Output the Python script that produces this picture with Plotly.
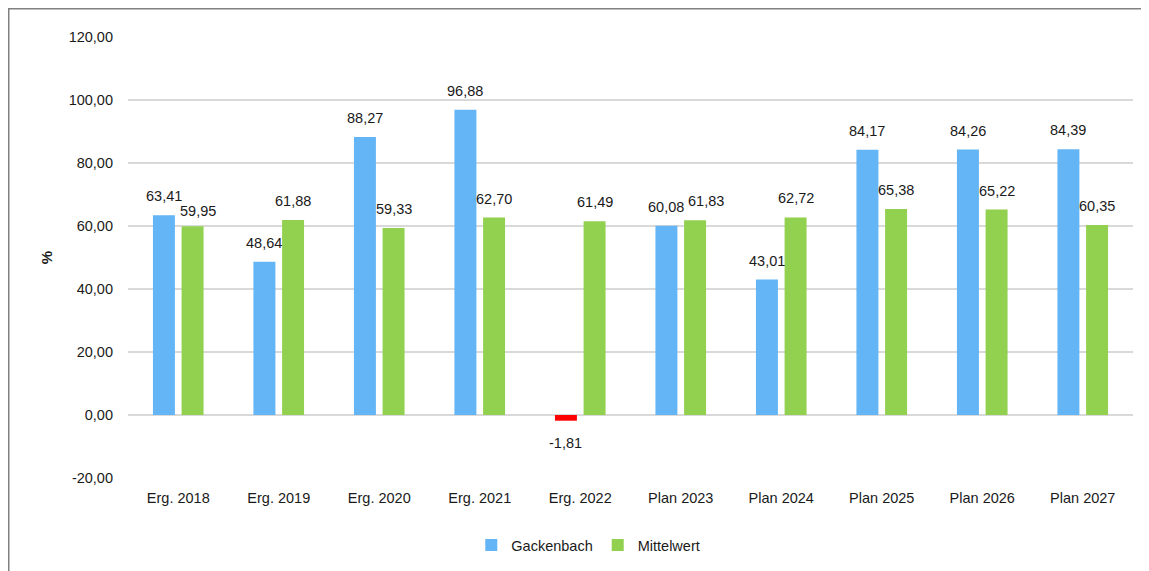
import plotly.graph_objects as go

categories = ["Erg. 2018", "Erg. 2019", "Erg. 2020", "Erg. 2021", "Erg. 2022",
              "Plan 2023", "Plan 2024", "Plan 2025", "Plan 2026", "Plan 2027"]
gackenbach = [63.41, 48.64, 88.27, 96.88, -1.81, 60.08, 43.01, 84.17, 84.26, 84.39]
mittelwert = [59.95, 61.88, 59.33, 62.70, 61.49, 61.83, 62.72, 65.38, 65.22, 60.35]
y_ticks = [-20, 0, 20, 40, 60, 80, 100, 120]

# small label nudges (px) to avoid overlapping labels, as in the original
label_nudge = {("Mittelwert", "Erg. 2018"): (5, -4),
               ("Mittelwert", "Plan 2023"): (11, 0)}

BLUE = "#63B5F5"
GREEN = "#92D050"
RED = "#FF0000"
FONT = "Liberation Sans, Arial, sans-serif"
TXT = "#1a1a1a"
FS = 14.5

# plot area in figure pixels
L, R, T, B = 120, 1125, 29, 470
W, H = 1149, 571
PW, PH = R - L, B - T


def de(v):
    return f"{v:.2f}".replace(".", ",")


fig = go.Figure()
fig.add_trace(go.Bar(
    x=categories, y=gackenbach, name="Gackenbach",
    marker=dict(color=[BLUE if v >= 0 else RED for v in gackenbach], line=dict(width=0)),
))
fig.add_trace(go.Bar(
    x=categories, y=mittelwert, name="Mittelwert",
    marker=dict(color=GREEN, line=dict(width=0)),
))

annotations = []
for name, series, xs in (("Gackenbach", gackenbach, -14.5), ("Mittelwert", mittelwert, 14.5)):
    for c, v in zip(categories, series):
        neg = v < 0
        dx, dy = label_nudge.get((name, c), (0, 0))
        annotations.append(dict(
            x=c, y=v, xref="x", yref="y", text=de(v), showarrow=False,
            xshift=xs + dx, yshift=(-12 if neg else 9) + dy,
            yanchor="top" if neg else "bottom",
            font=dict(family=FONT, size=FS, color=TXT),
        ))

fig.update_layout(
    width=W, height=H,
    margin=dict(l=L, r=W - R, t=T, b=H - B),
    paper_bgcolor="white", plot_bgcolor="white",
    bargap=0.43, bargroupgap=0.233, barmode="group",
    font=dict(family=FONT, size=FS, color=TXT),
    annotations=annotations,
    showlegend=True,
    legend=dict(
        orientation="h", x=0.458, xanchor="center", y=-0.152, yanchor="middle",
        font=dict(family=FONT, size=FS, color=TXT),
        itemwidth=30, traceorder="normal",
    ),
    shapes=[dict(
        type="rect", xref="paper", yref="paper",
        x0=(0.75 - L) / PW, x1=(W + 20 - L) / PW,
        y0=(B - H - 30) / PH, y1=(B - 0.75) / PH,
        line=dict(color="#808080", width=1.5), fillcolor="rgba(0,0,0,0)",
        layer="below",
    )],
)
fig.update_xaxes(
    showgrid=False, showline=False, zeroline=False, ticks="",
    tickfont=dict(family=FONT, size=FS, color=TXT), ticklabelstandoff=9,
)
fig.update_yaxes(
    range=[-20, 120], tickvals=y_ticks, ticktext=[de(v) for v in y_ticks],
    showgrid=True, gridcolor="#D9D9D9", gridwidth=1.5,
    zeroline=True, zerolinecolor="#D9D9D9", zerolinewidth=1.5,
    showline=False, ticks="", ticklabelstandoff=14,
    tickfont=dict(family=FONT, size=FS, color=TXT),
    title=dict(text="<b>%</b>", font=dict(family=FONT, size=15, color=TXT), standoff=12),
)

fig.write_html("out.html")
